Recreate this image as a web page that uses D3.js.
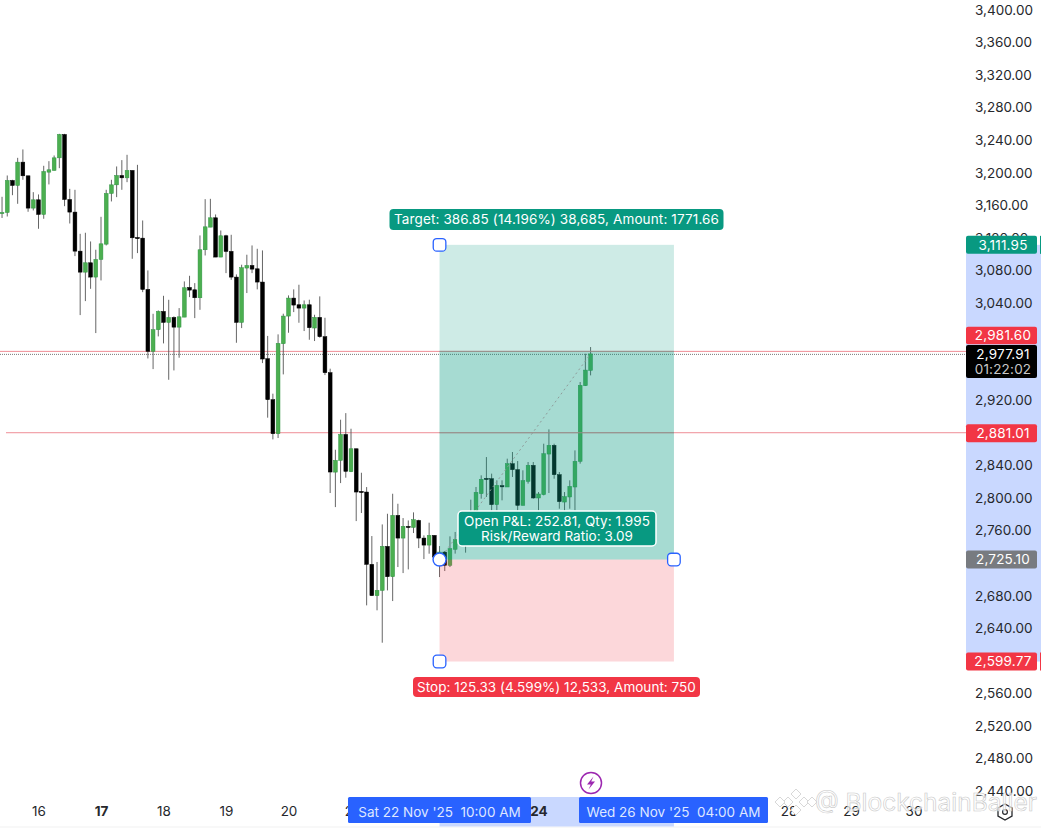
<!DOCTYPE html>
<html>
<head>
<meta charset="utf-8">
<script src="https://cdn.jsdelivr.net/npm/d3@7"></script>
<style>
  html, body { margin: 0; padding: 0; background: #fff; overflow: hidden; }
  svg { display: block; font-family: Inter, "Noto Sans", sans-serif; }
  text { white-space: pre; }
</style>
</head>
<body>
<div id="chart"></div>
<script>
// 2h candles, first one is 15 Nov 10:00
const opens = [3151,3151.7,3191.1,3184.9,3213.6,3196.8,3157.1,3167.3,3149.3,3201.3,3203.4,3218.9,3247.6,3167.7,3152.2,3104.2,3078.4,3089.9,3072.3,3094,3112.8,3175.1,3185.7,3197.2,3194.3,3203.4,3121,3120.2,3057.1,2981,3007.6,3030.1,3016.6,3022.7,3010.8,3023.1,3059.6,3056.7,3046.9,3105.9,3133.7,3145.2,3096.9,3123.1,3103.9,3072.3,3016.6,3083.4,3086.6,3082.5,3066.2,2972,2921.6,2879.8,2990.4,3024.4,3046.5,3038.3,3034.2,3038.3,3009.7,3022.8,2999,2954.8,2832.6,2847,2878.9,2833.1,2861.3,2808.9,2808.1,2719.2,2680.7,2687.2,2741.3,2704,2779.4,2751.5,2765.9,2764.6,2773.2,2751.5,2742.9,2754.8,2730.2,2734.3,2718,2737.7,2750,2765,2765,2780,2806.1,2824.9,2824.5,2792.6,2815.9,2814.3,2842.9,2835.6,2791.7,2821.2,2840.9,2800.8,2804.9,2854.8,2865.5,2829.4,2795.8,2802,2814.3,2845.8,2938.8,2957.6];
const highs = [3171,3197.2,3191.9,3218.9,3229.2,3196.8,3176.7,3173.9,3209.1,3214.8,3221.8,3248.4,3248.4,3180.8,3179.6,3125.5,3126.8,3116.1,3105.9,3146.4,3179.6,3191.9,3208.3,3216.1,3222.6,3203.4,3210.3,3141.9,3080.5,3027.2,3031.3,3049.3,3044.4,3024,3034.2,3067,3073.9,3064.9,3123.5,3168.1,3168.5,3149.3,3129.6,3124.3,3124.3,3075.6,3087.5,3099.8,3111.2,3107.1,3105.1,3000,2929,3001.9,3027.3,3049.8,3057.2,3062.9,3043.6,3044.5,3026,3048.6,3022.3,2959.7,2860.1,2897,2905.1,2885.9,2861.3,2831.8,2814.2,2754,2722.1,2768.3,2781.4,2806,2793.7,2776.1,2773.2,2783.1,2774.1,2754.8,2770.4,2754.8,2741.7,2735.6,2753.6,2759,2765,2770,2798.7,2814.3,2828.6,2851.1,2830.7,2822.5,2822.5,2849.1,2857.3,2846.2,2834.8,2845,2845,2808.1,2867.5,2885.1,2867.5,2832.7,2808.1,2822.5,2859.3,2943.3,2978.1,2986.3];
const lows = [3145,3146.8,3173,3162.4,3191.9,3152.6,3154.2,3131.7,3144,3186.2,3203.4,3206.2,3159.5,3138.2,3098.1,3025.6,3042.8,3057.9,3003.5,3068.2,3111.2,3165.3,3170.6,3179.6,3189,3094.8,3101.8,3053.8,2972.3,2959.2,2999.4,2990.8,2946.1,2957.6,2973.2,3023.1,3047.7,3021.9,3032.1,3098.9,3133.7,3096.9,3096.9,3077.2,3069,2991.6,3009.6,3052.7,3077.2,3057.2,2966.6,2899.5,2872.8,2874.5,2952.7,3003.9,3029.3,3016.2,3006,2995.3,2993.7,2997.8,2951.9,2806.9,2789.6,2819.1,2825.7,2832.6,2772.4,2782.3,2668.8,2680.7,2662.7,2622.9,2687.2,2674.1,2715.9,2708.5,2713,2757.7,2739.2,2725.7,2732.3,2724.1,2703.6,2711,2715.9,2732.4,2745,2733.6,2760,2775,2800,2802,2785.6,2785.6,2797.9,2814.3,2826.6,2785.6,2791.7,2818.4,2799.9,2785.6,2804,2806.9,2824.5,2787.6,2785.6,2787.6,2785.6,2843,2938.4,2951.5];
const closes = [3151.7,3191.1,3184.9,3213.6,3196.8,3157.1,3167.3,3149.3,3202.1,3204.2,3218.9,3247.6,3167.7,3152.2,3104.2,3078.4,3089.9,3072.3,3094,3113.2,3175.1,3185.7,3197.2,3194.3,3203.4,3120.6,3119.8,3057.1,2981,3007.6,3030.1,3016.6,3022.7,3010.8,3023.5,3059.2,3056.3,3046.9,3105.9,3134.1,3145.2,3096.9,3123.1,3103.8,3072.3,3016.6,3083.8,3086.6,3082.1,3066.2,2971.6,2921.6,2879.8,2990.8,3024.4,3046.5,3037.9,3034.2,3038.3,3010.1,3022.8,2999,2954.8,2832.7,2847,2878.9,2833.5,2861.3,2808.1,2808,2719.2,2680.7,2687.2,2741.3,2704,2779.4,2751.5,2765.9,2764.6,2774.1,2751.5,2742.9,2754.8,2728.2,2734.3,2718,2738.4,2749.6,2758,2758,2782,2807.7,2823.7,2824,2792.6,2816.3,2815.1,2842.9,2835.6,2791.7,2822.1,2840.9,2800.8,2805.7,2855.2,2865.5,2829.4,2796.3,2802.4,2815.1,2845.8,2939.2,2958,2977.91];

// ticks that sit fully behind a price label are left out
const priceTicks = [2440,2480,2520,2560,2640,2680,2760,2800,2840,2920,3040,3080,3120,3160,3200,3240,3280,3320,3360,3400];
const dayTicks = [16,17,18,19,20,21,24,28,29,30];
const boldDays = [17,24];

const targetPrice = 3111.95, entryPrice = 2725.10, stopPrice = 2599.77, lastPrice = 2977.91;
const alertUpper = 2981.60, alertLower = 2881.01;

const width = 1041, height = 828, axisX = 966;

const day = d => new Date(Date.UTC(2025, 10, d));
const hoursAfter = (t, h) => new Date(t.getTime() + h * 3600000);
const firstCandle = new Date(Date.UTC(2025, 10, 15, 10));
const posStart = new Date(Date.UTC(2025, 10, 22, 10));
const posEnd = new Date(Date.UTC(2025, 10, 26, 4));

const x = d3.scaleUtc().domain([day(16), day(30)]).range([38.5, 913.5]);
const y = d3.scaleLinear().domain([2440, 3400]).range([791.5, 10.5]);

const svg = d3.select("#chart").append("svg")
  .attr("width", width)
  .attr("height", height);

svg.append("rect")
  .attr("x", 0).attr("y", 826).attr("width", width).attr("height", 2)
  .attr("fill", "#f8f8f8");

// axis highlight strips
svg.append("rect")
  .attr("x", axisX).attr("width", width - axisX)
  .attr("y", y(targetPrice)).attr("height", y(stopPrice) - y(targetPrice))
  .attr("fill", "#c9d8ff");
svg.append("rect")
  .attr("x", x(posStart)).attr("width", x(posEnd) - x(posStart))
  .attr("y", 797).attr("height", 29.5)
  .attr("fill", "#c9d8ff");

// price axis
svg.append("g")
  .attr("transform", "translate(975,-0.5)")
  .call(d3.axisRight(y).tickValues(priceTicks).tickSize(0).tickPadding(0).tickFormat(d3.format(",.2f")))
  .call(g => g.select(".domain").remove())
  .selectAll("text")
    .attr("font-family", "Inter, sans-serif")
    .attr("font-size", 13.5)
    .attr("fill", "#26282c");

// time axis
svg.append("g")
  .attr("transform", "translate(0,806.5)")
  .call(d3.axisBottom(x).tickValues(dayTicks.map(day)).tickSize(0).tickPadding(0).tickFormat(d => d.getUTCDate()))
  .call(g => g.select(".domain").remove())
  .selectAll("text")
    .attr("font-family", "Inter, sans-serif")
    .attr("font-size", 13.5)
    .attr("fill", "#26282c")
    .attr("font-weight", d => boldDays.includes(d.getUTCDate()) ? 700 : 400);

// horizontal lines
svg.append("line")
  .attr("x1", 0).attr("x2", axisX)
  .attr("y1", y(alertUpper) + 0.5).attr("y2", y(alertUpper) + 0.5)
  .attr("stroke", "#ec7f89").attr("stroke-width", 0.9);
svg.append("line")
  .attr("x1", 6).attr("x2", axisX)
  .attr("y1", y(alertLower)).attr("y2", y(alertLower))
  .attr("stroke", "#ec7f89").attr("stroke-width", 0.9);
svg.append("line")
  .attr("x1", 0).attr("x2", axisX)
  .attr("y1", y(lastPrice) + 0.5).attr("y2", y(lastPrice) + 0.5)
  .attr("stroke", "#555").attr("stroke-width", 0.8).attr("stroke-dasharray", "1 1");

// candles
const candles = opens.map((o, i) => ({
  t: hoursAfter(firstCandle, i * 2), o: o, h: highs[i], l: lows[i], c: closes[i]
}));
const up = d => d.c >= d.o;

svg.append("g").selectAll("line")
  .data(candles)
  .enter()
  .append("line")
    .attr("x1", d => x(d.t)).attr("x2", d => x(d.t))
    .attr("y1", d => y(d.h)).attr("y2", d => y(d.l))
    .attr("stroke", "#555")
    .attr("stroke-width", 0.9);

svg.append("g").selectAll("rect")
  .data(candles)
  .enter()
  .append("rect")
    .attr("x", d => x(d.t) - 1.9)
    .attr("width", 3.8)
    .attr("y", d => y(Math.max(d.o, d.c)))
    .attr("height", d => Math.max(1.2, Math.abs(y(d.o) - y(d.c))))
    .attr("fill", d => up(d) ? "#4caf50" : "#000")
    .attr("stroke", d => up(d) ? "#2f9443" : "#000")
    .attr("stroke-width", 0.5);

// position zones, drawn over the candles
const zoneX = x(posStart), zoneW = x(posEnd) - x(posStart);
svg.append("rect")
  .attr("x", zoneX).attr("width", zoneW)
  .attr("y", y(targetPrice)).attr("height", y(entryPrice) - y(targetPrice))
  .attr("fill", "#089981").attr("fill-opacity", 0.2);
svg.append("rect")
  .attr("x", zoneX).attr("width", zoneW)
  .attr("y", y(alertUpper) + 0.5).attr("height", y(entryPrice) - y(alertUpper) - 0.5)
  .attr("fill", "#089981").attr("fill-opacity", 0.2);
svg.append("rect")
  .attr("x", zoneX).attr("width", zoneW)
  .attr("y", y(entryPrice)).attr("height", y(stopPrice) - y(entryPrice))
  .attr("fill", "#f23645").attr("fill-opacity", 0.2);

// the alert lines read grey where they cross the zone
[alertUpper, alertLower].forEach(p => {
  svg.append("line")
    .attr("x1", zoneX).attr("x2", zoneX + zoneW)
    .attr("y1", y(p) + (p == alertUpper ? 0.5 : 0)).attr("y2", y(p) + (p == alertUpper ? 0.5 : 0))
    .attr("stroke", "#96908c").attr("stroke-width", 0.9);
});

// entry to last price
svg.append("line")
  .attr("x1", zoneX).attr("y1", y(entryPrice))
  .attr("x2", x(hoursAfter(firstCandle, 113 * 2))).attr("y2", y(lastPrice))
  .attr("stroke", "#8f9c9a").attr("stroke-width", 1).attr("stroke-dasharray", "2 3");

// text boxes on the chart
function tag(cx, top, w, h, fill, lines, spacing, border) {
  svg.append("rect")
    .attr("x", cx - w / 2).attr("y", top)
    .attr("width", w).attr("height", h)
    .attr("rx", 4)
    .attr("fill", fill)
    .attr("stroke", border || "none")
    .attr("stroke-width", border ? 1.5 : 0);
  lines.forEach((s, i) => {
    svg.append("text")
      .attr("x", cx)
      .attr("y", top + h / 2 + (i - (lines.length - 1) / 2) * 15 + 4.8)
      .attr("text-anchor", "middle")
      .attr("font-size", 13.5)
      .attr("letter-spacing", spacing)
      .attr("fill", "#fff")
      .text(s);
  });
}

tag(556.5, 209, 334, 21, "#089981", ["Target: 386.85 (14.196%) 38,685, Amount: 1771.66"], 0.13);
tag(556.5, 677, 287, 20, "#f23645", ["Stop: 125.33 (4.599%) 12,533, Amount: 750"], 0.03);
tag(557, 511, 198, 35, "#089981", ["Open P&L: 252.81, Qty: 1.995", "Risk/Reward Ratio: 3.09"], 0.04, "#fff");

// handles
[[zoneX, y(targetPrice)], [zoneX + zoneW, y(entryPrice)], [zoneX, y(stopPrice)]].forEach(p => {
  svg.append("rect")
    .attr("x", p[0] - 6.3).attr("y", p[1] - 6.3)
    .attr("width", 12.6).attr("height", 12.6)
    .attr("rx", 3.5)
    .attr("fill", "#fff").attr("stroke", "#2962ff").attr("stroke-width", 1.3);
});
svg.append("circle")
  .attr("cx", zoneX).attr("cy", y(entryPrice))
  .attr("r", 6.5)
  .attr("fill", "#fff").attr("stroke", "#2962ff").attr("stroke-width", 1.4);

// price labels on the axis
function priceLabel(cy, h, fill, lines, colors) {
  svg.append("rect")
    .attr("x", axisX).attr("y", cy - h / 2)
    .attr("width", 71).attr("height", h)
    .attr("rx", 2)
    .attr("fill", fill);
  lines.forEach((s, i) => {
    svg.append("text")
      .attr("x", 1003)
      .attr("y", cy + (i - (lines.length - 1) / 2) * 15.5 + 4.8)
      .attr("text-anchor", "middle")
      .attr("font-size", 13.5)
      .attr("letter-spacing", 0.2)
      .attr("fill", colors ? colors[i] : "#fff")
      .text(s);
  });
}

priceLabel(y(targetPrice), 18, "#089981", ["3,111.95"]);
svg.append("rect").attr("x", 1040).attr("y", y(targetPrice) - 9).attr("width", 1).attr("height", 18).attr("fill", "#089981");
priceLabel(335.5, 17.5, "#f23645", ["2,981.60"]);
priceLabel(361.5, 33, "#000", ["2,977.91", "01:22:02"], ["#fff", "#c8c8c8"]);
priceLabel(y(alertLower) + 0.5, 18, "#f23645", ["2,881.01"]);
priceLabel(y(entryPrice), 18, "#787b80", ["2,725.10"]);
priceLabel(y(stopPrice), 18, "#f23645", ["2,599.77"]);
svg.append("rect").attr("x", 1040).attr("y", y(stopPrice) - 9).attr("width", 1).attr("height", 18).attr("fill", "#f23645");

// time labels
function timeLabel(x0, x1, s) {
  svg.append("rect")
    .attr("x", x0).attr("y", 797)
    .attr("width", x1 - x0).attr("height", 26)
    .attr("rx", 1.5)
    .attr("fill", "#2962ff");
  svg.append("text")
    .attr("x", (x0 + x1) / 2).attr("y", 816.5)
    .attr("text-anchor", "middle")
    .attr("font-size", 13.5)
    .attr("fill", "#dfe7ff")
    .text(s);
}
timeLabel(348, 531, "Sat 22 Nov '25  10:00 AM");
timeLabel(579, 768, "Wed 26 Nov '25  04:00 AM");

// bolt marker
svg.append("circle")
  .attr("cx", 591).attr("cy", 783).attr("r", 10.5)
  .attr("fill", "#fff").attr("stroke", "#9c27b0").attr("stroke-width", 1.5);
svg.append("path")
  .attr("d", "M593.5 776.5 L587 784.5 L590.8 784.5 L588.5 789.5 L595 781.5 L591.2 781.5 Z")
  .attr("fill", "#9c27b0");

// settings icon
svg.append("path")
  .attr("d", "M1005 804 L1012 808 L1012 816 L1005 820 L998 816 L998 808 Z")
  .attr("fill", "none").attr("stroke", "#26282c").attr("stroke-width", 1.3);
svg.append("circle")
  .attr("cx", 1005).attr("cy", 812).attr("r", 2.4)
  .attr("fill", "none").attr("stroke", "#26282c").attr("stroke-width", 1.2);

// watermark
const mark = svg.append("g").attr("fill", "#fff").attr("stroke", "#d8d8d8").attr("stroke-width", 1);
[[796,794],[788,802],[804,802],[796,810],[780,802],[812,802]].forEach(p => {
  mark.append("path")
    .attr("d", `M${p[0]} ${p[1]-5} L${p[0]+5} ${p[1]} L${p[0]} ${p[1]+5} L${p[0]-5} ${p[1]} Z`);
});
svg.append("text")
  .attr("x", 815).attr("y", 811)
  .attr("font-size", 24.5)
  .attr("fill", "#fff").attr("fill-opacity", 0.7)
  .attr("stroke", "#c8c8c8").attr("stroke-width", 0.6)
  .text("@ BlockchainBaller");
</script>
</body>
</html>
